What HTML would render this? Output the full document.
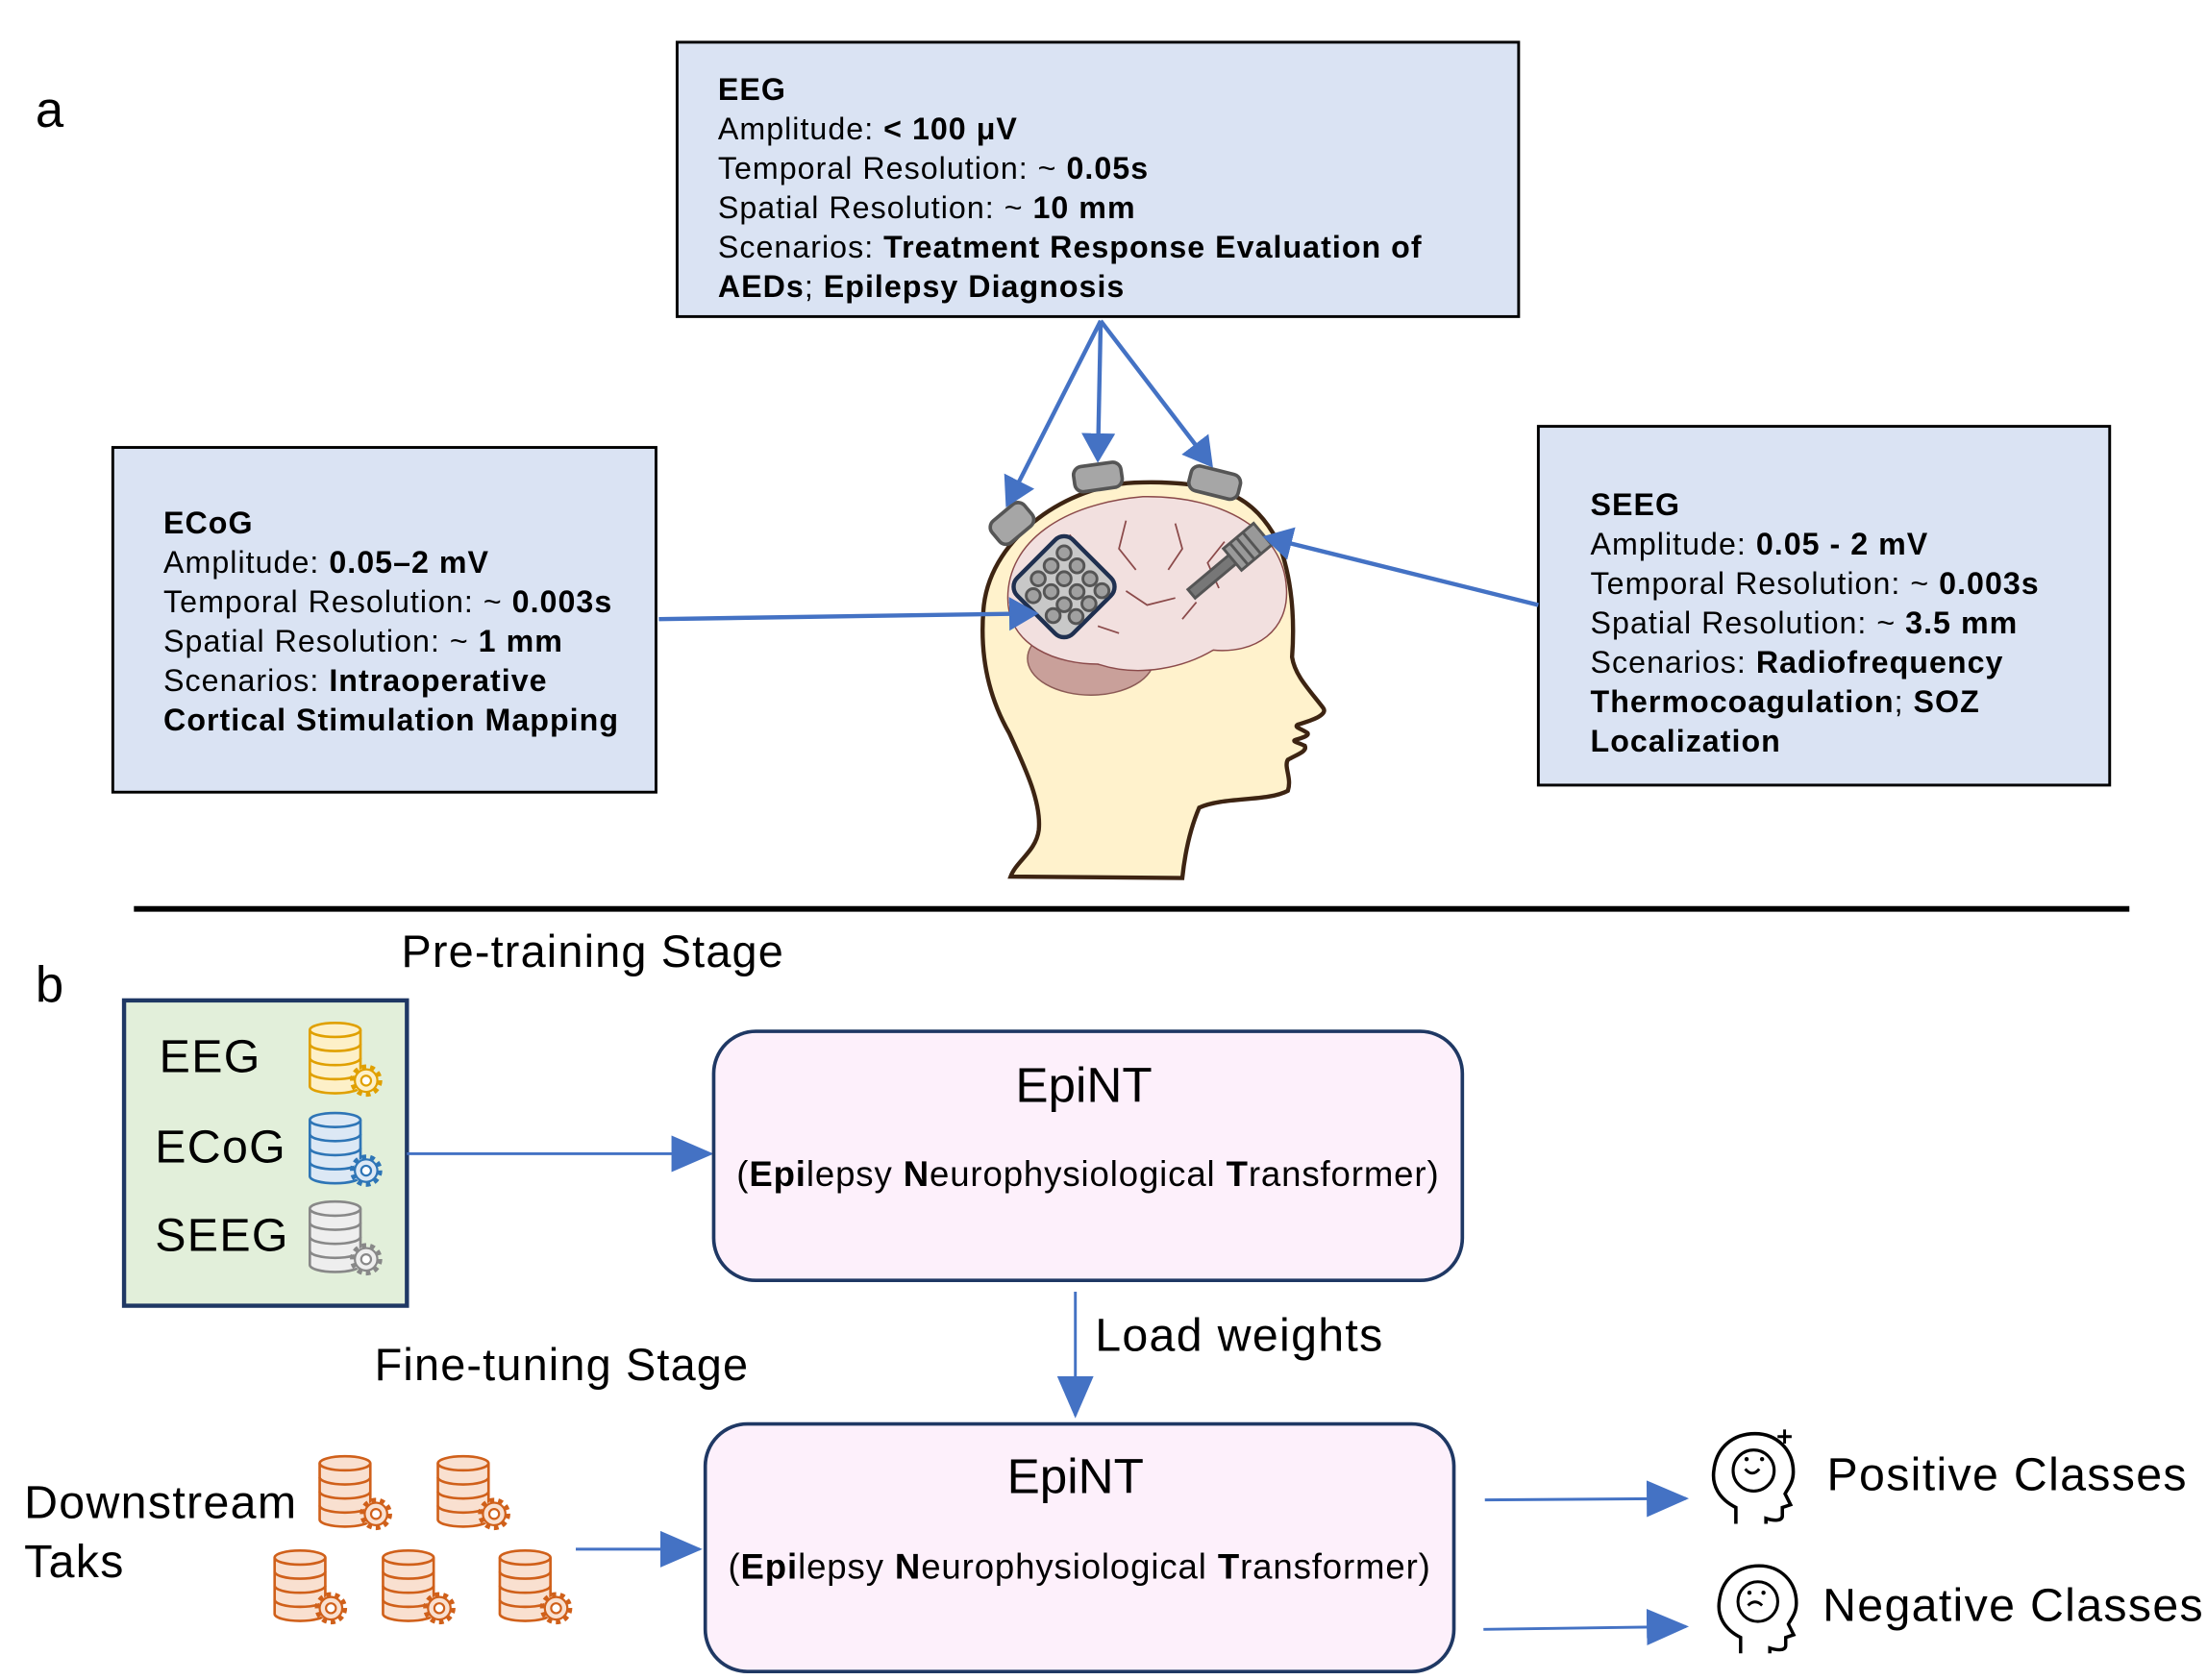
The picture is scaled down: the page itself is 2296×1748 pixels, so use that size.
<!DOCTYPE html>
<html><head><meta charset="utf-8"><style>
html,body{margin:0;padding:0;background:#fff;}
svg{display:block;}
text{font-family:"Liberation Sans",Arial,sans-serif;fill:#000;}
.bt{font-size:22px;letter-spacing:0.7px;}
.b{font-weight:bold;}
.lg{font-size:33px;letter-spacing:0.9px;}
.st{font-size:32px;letter-spacing:0.8px;}
.sub{font-size:25px;letter-spacing:0.6px;}
</style></head><body>
<svg width="2296" height="1748" viewBox="0 0 1568 1194" xmlns="http://www.w3.org/2000/svg">
<defs>
<marker id="ah" markerWidth="8" markerHeight="8" refX="6" refY="4" orient="auto" markerUnits="strokeWidth">
<path d="M0,0 L7,4 L0,8 z" fill="#4472c4"/></marker>
<marker id="ah3" markerWidth="30" markerHeight="26" refX="28" refY="13" orient="auto" markerUnits="userSpaceOnUse">
<path d="M0,0 L30,13 L0,26 z" fill="#4472c4"/></marker>
<symbol id="db" viewBox="0 0 56 56" overflow="visible">
<path d="M2 6 V46 A18 5 0 0 0 38 46 V6" stroke-width="1.8"/>
<ellipse cx="20" cy="6" rx="18" ry="5" stroke-width="1.8"/>
<path d="M2 16 A18 5 0 0 0 38 16 M2 26 A18 5 0 0 0 38 26 M2 36 A18 5 0 0 0 38 36" fill="none" stroke-width="1.8"/>
<circle cx="42" cy="42" r="9" stroke-width="5" stroke-dasharray="3 2.6"/>
<circle cx="42" cy="42" r="8" stroke-width="1.5"/>
<circle cx="42" cy="42" r="3.5" fill="#fff" stroke-width="1.5"/>
</symbol>
<symbol id="face" viewBox="0 0 70 72" overflow="visible">
<path d="M22 70 V58 C10 52 4 42 6 30 C8 14 20 4 36 4 C52 4 64 16 64 32 C64 40 60 44 58 48 L62 56 L56 58 V64 C56 68 50 68 44 66 V70" fill="none" stroke="#000" stroke-width="2.5"/>
<circle cx="35" cy="31" r="15" fill="none" stroke="#000" stroke-width="2.2"/>
</symbol>
</defs>

<text x="25" y="90" font-size="36">a</text>

<rect x="481" y="30" width="598" height="195" fill="#dae3f3" stroke="#000" stroke-width="2"/>
<text class="bt" x="510" y="71"><tspan class="b">EEG</tspan></text>
<text class="bt" x="510" y="99">Amplitude: <tspan class="b">&lt; 100 μV</tspan></text>
<text class="bt" x="510" y="127">Temporal Resolution: ~ <tspan class="b">0.05s</tspan></text>
<text class="bt" x="510" y="155">Spatial Resolution: ~ <tspan class="b">10 mm</tspan></text>
<text class="bt" x="510" y="183">Scenarios: <tspan class="b">Treatment Response Evaluation of</tspan></text>
<text class="bt" x="510" y="211"><tspan class="b">AEDs</tspan>; <tspan class="b">Epilepsy Diagnosis</tspan></text>

<rect x="80" y="318" width="386" height="245" fill="#dae3f3" stroke="#000" stroke-width="2"/>
<text class="bt" x="116" y="379"><tspan class="b">ECoG</tspan></text>
<text class="bt" x="116" y="407">Amplitude: <tspan class="b">0.05–2 mV</tspan></text>
<text class="bt" x="116" y="435">Temporal Resolution: ~ <tspan class="b">0.003s</tspan></text>
<text class="bt" x="116" y="463">Spatial Resolution: ~ <tspan class="b">1 mm</tspan></text>
<text class="bt" x="116" y="491">Scenarios: <tspan class="b">Intraoperative</tspan></text>
<text class="bt" x="116" y="519"><tspan class="b">Cortical Stimulation Mapping</tspan></text>

<rect x="1093" y="303" width="406" height="255" fill="#dae3f3" stroke="#000" stroke-width="2"/>
<text class="bt" x="1130" y="366"><tspan class="b">SEEG</tspan></text>
<text class="bt" x="1130" y="394">Amplitude:  <tspan class="b">0.05 - 2 mV</tspan></text>
<text class="bt" x="1130" y="422">Temporal Resolution: ~ <tspan class="b">0.003s</tspan></text>
<text class="bt" x="1130" y="450">Spatial Resolution: ~ <tspan class="b">3.5 mm</tspan></text>
<text class="bt" x="1130" y="478">Scenarios: <tspan class="b">Radiofrequency</tspan></text>
<text class="bt" x="1130" y="506"><tspan class="b">Thermocoagulation</tspan>; <tspan class="b">SOZ</tspan></text>
<text class="bt" x="1130" y="534"><tspan class="b">Localization</tspan></text>

<!-- head -->
<path d="M806 343 C760 345 705 380 699 430 C695 470 705 500 717 521 C728 545 740 570 738 590 C736 605 722 612 718 623 L840 624 C842 605 846 588 852 574 C870 566 900 570 915 562 C918 553 912 545 915 540 C922 536 929 534 927 530 C923 528 918 527 920 526 C926 524 930 523 929 521 C925 518 919 517 922 515 C932 512 944 508 940 503 C930 490 920 480 918 467 C920 440 918 410 908 385 C900 370 890 358 874 351 C855 344 830 342 806 343 Z" fill="#fff2cc" stroke="#3d2412" stroke-width="3"/>
<ellipse cx="775" cy="468" rx="45" ry="26" fill="#c9a09a" stroke="#8b5a55" stroke-width="1"/>
<path d="M716 425 C716 385 755 358 812 353 C870 352 912 378 914 418 C916 448 892 465 862 462 C842 474 810 482 780 472 C752 472 716 460 716 425 Z" fill="#f2e0df" stroke="#8b4a4a" stroke-width="1"/>
<path d="M760 380 l10 15 l-8 12 M800 370 l-5 20 l12 15 M835 372 l5 18 l-10 15 M870 385 l-12 15 l8 18 M800 420 l15 10 l20 -5 M840 440 l10 -12 M780 445 l15 5" fill="none" stroke="#8b4a4a" stroke-width="1.2"/>
<g fill="#a6a6a6" stroke="#555" stroke-width="2.5">
<rect x="704" y="362" width="30" height="20" rx="6" transform="rotate(-40 719 372)"/>
<rect x="763" y="330" width="34" height="18" rx="6" transform="rotate(-8 780 339)"/>
<rect x="845" y="334" width="36" height="18" rx="6" transform="rotate(14 863 343)"/>
</g>
<g transform="rotate(45 756 417)">
<rect x="728" y="389" width="56" height="56" rx="9" fill="#c8c8c8" stroke="#1f3050" stroke-width="3"/>
<g fill="#a0a0a0" stroke="#555" stroke-width="2">
<circle cx="739" cy="400" r="5"/><circle cx="752" cy="400" r="5"/><circle cx="765" cy="400" r="5"/><circle cx="777" cy="400" r="5"/>
<circle cx="739" cy="413" r="5"/><circle cx="752" cy="413" r="5"/><circle cx="765" cy="413" r="5"/><circle cx="777" cy="413" r="5"/>
<circle cx="739" cy="426" r="5"/><circle cx="752" cy="426" r="5"/><circle cx="765" cy="426" r="5"/><circle cx="777" cy="426" r="5"/>
<circle cx="745" cy="437" r="5"/><circle cx="765" cy="437" r="5"/>
</g></g>
<g transform="rotate(-40 868 404)">
<rect x="840" y="400" width="40" height="8" fill="#777" stroke="#555" stroke-width="2"/>
<rect x="878" y="394" width="28" height="20" fill="#999" stroke="#555" stroke-width="2"/>
<path d="M884 394 v20 M890 394 v20 M896 394 v20" stroke="#555" stroke-width="2"/>
</g>

<g stroke="#4472c4" stroke-width="3" fill="none">
<line x1="782" y1="228" x2="716" y2="358" marker-end="url(#ah)"/>
<line x1="782" y1="228" x2="780" y2="326" marker-end="url(#ah)"/>
<line x1="782" y1="228" x2="860" y2="330" marker-end="url(#ah)"/>
<line x1="468" y1="440" x2="735" y2="436" marker-end="url(#ah)"/>
<line x1="1093" y1="430" x2="900" y2="382" marker-end="url(#ah)"/>
</g>

<line x1="95" y1="646" x2="1513" y2="646" stroke="#000" stroke-width="4"/>

<text x="25" y="712" font-size="36">b</text>
<text class="st" x="285" y="687">Pre-training Stage</text>

<rect x="88" y="711" width="201" height="217" fill="#e2efda" stroke="#1f3864" stroke-width="3"/>
<text class="lg" x="113" y="762">EEG</text>
<text class="lg" x="110" y="826">ECoG</text>
<text class="lg" x="110" y="889">SEEG</text>
<use href="#db" x="218" y="726" width="56" height="56" fill="#fdf0c8" stroke="#e0a000"/>
<use href="#db" x="218" y="790" width="56" height="56" fill="#dce8f5" stroke="#2e75b6"/>
<use href="#db" x="218" y="853" width="56" height="56" fill="#eeeeee" stroke="#888"/>

<line x1="289" y1="820" x2="505" y2="820" stroke="#4472c4" stroke-width="2" marker-end="url(#ah3)"/>

<rect x="507" y="733" width="532" height="177" rx="30" fill="#fdf0fb" stroke="#1f3864" stroke-width="2.5"/>
<text x="770" y="783" font-size="35" text-anchor="middle">EpiNT</text>
<text class="sub" x="773" y="843" text-anchor="middle">(<tspan class="b">Epi</tspan>lepsy <tspan class="b">N</tspan>europhysiological <tspan class="b">T</tspan>ransformer)</text>

<line x1="764" y1="918" x2="764" y2="1006" stroke="#4472c4" stroke-width="2" marker-end="url(#ah3)"/>
<text class="lg" x="778" y="960">Load weights</text>
<text class="st" x="266" y="981">Fine-tuning Stage</text>

<rect x="501" y="1012" width="532" height="176" rx="30" fill="#fdf0fb" stroke="#1f3864" stroke-width="2.5"/>
<text x="764" y="1061" font-size="35" text-anchor="middle">EpiNT</text>
<text class="sub" x="767" y="1122" text-anchor="middle">(<tspan class="b">Epi</tspan>lepsy <tspan class="b">N</tspan>europhysiological <tspan class="b">T</tspan>ransformer)</text>

<text class="lg" x="17" y="1079">Downstream</text>
<text class="lg" x="17" y="1121">Taks</text>
<g fill="#f9e0d0" stroke="#d0601a">
<use href="#db" x="225" y="1034" width="56" height="56"/>
<use href="#db" x="309" y="1034" width="56" height="56"/>
<use href="#db" x="193" y="1101" width="56" height="56"/>
<use href="#db" x="270" y="1101" width="56" height="56"/>
<use href="#db" x="353" y="1101" width="56" height="56"/>
</g>
<line x1="409" y1="1101" x2="497" y2="1101" stroke="#4472c4" stroke-width="2" marker-end="url(#ah3)"/>

<line x1="1055" y1="1066" x2="1198" y2="1065" stroke="#4472c4" stroke-width="2" marker-end="url(#ah3)"/>
<line x1="1054" y1="1158" x2="1198" y2="1156" stroke="#4472c4" stroke-width="2" marker-end="url(#ah3)"/>

<use href="#face" x="1212" y="1014" width="68" height="72"/>
<path d="M1240 1044 q5 6 10 0" fill="none" stroke="#000" stroke-width="2"/>
<circle cx="1241" cy="1037" r="1.5"/><circle cx="1252" cy="1037" r="1.5"/>
<path d="M1268 1016 v10 M1263 1021 h10" stroke="#000" stroke-width="2"/>
<use href="#face" x="1216" y="1107" width="66" height="72"/>
<path d="M1242 1141 q5 -5 10 0" fill="none" stroke="#000" stroke-width="2"/>
<circle cx="1243" cy="1132" r="1.5"/><circle cx="1253" cy="1132" r="1.5"/>

<text class="lg" x="1298" y="1059">Positive Classes</text>
<text class="lg" x="1295" y="1152">Negative Classes</text>
</svg>
</body></html>
